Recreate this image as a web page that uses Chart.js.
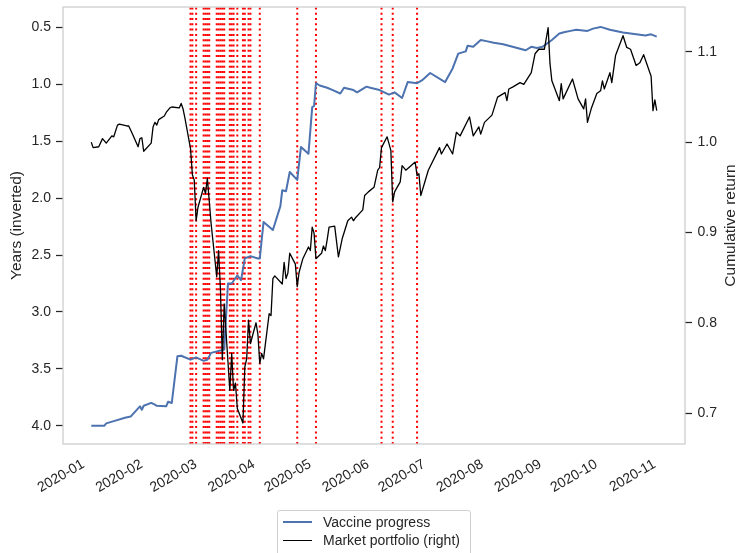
<!DOCTYPE html>
<html>
<head>
<meta charset="utf-8">
<title>Vaccine progress and market portfolio</title>
<script src="https://cdn.jsdelivr.net/npm/chart.js@4.4.0/dist/chart.umd.min.js"></script>
<style>
  html, body { margin: 0; padding: 0; background: #fff; overflow: hidden; width: 737px; height: 553px; }
  #wrap { position: relative; width: 737px; height: 553px; }
  #chart { position: absolute; left: 0; top: 0; }
  #legend {
    position: absolute; left: 277px; top: 510px; width: 194px; height: 60px;
    box-sizing: border-box; border: 1px solid #d0d0d0; border-radius: 3px;
    background: rgba(255,255,255,0.8);
    font: 14px "Liberation Sans", Arial, sans-serif; color: #262626;
  }
  .item { position: absolute; left: 5px; height: 19px; display: flex; align-items: center; white-space: nowrap; }
  .swatch { width: 29px; height: 0; margin-right: 11px; }
</style>
</head>
<body>
<div id="wrap">
  <canvas id="chart" width="737" height="553"></canvas>
  <div id="legend"></div>
</div>
<script>
// Expected years until a vaccine (left axis, inverted)
const VACCINE_DATES = [
  '2020-01-02','2020-01-09','2020-01-10','2020-01-14','2020-01-20','2020-01-23','2020-01-28','2020-01-29','2020-01-30',
  '2020-02-03','2020-02-05','2020-02-06','2020-02-11','2020-02-12','2020-02-14','2020-02-17','2020-02-19','2020-02-24','2020-02-27',
  '2020-03-02','2020-03-04','2020-03-06','2020-03-11','2020-03-13','2020-03-15','2020-03-17','2020-03-20','2020-03-22','2020-03-24',
  '2020-03-27','2020-03-31','2020-04-01','2020-04-03','2020-04-08','2020-04-12','2020-04-13','2020-04-15','2020-04-17','2020-04-21',
  '2020-04-23','2020-04-27','2020-04-29','2020-04-30','2020-05-01','2020-05-03','2020-05-07','2020-05-10','2020-05-14','2020-05-16',
  '2020-05-21','2020-05-23','2020-05-26','2020-05-28','2020-05-30','2020-06-04','2020-06-09','2020-06-12','2020-06-16','2020-06-19',
  '2020-06-24','2020-06-27','2020-07-01','2020-07-09','2020-07-13','2020-07-16','2020-07-20','2020-07-21','2020-07-24','2020-07-28',
  '2020-07-31','2020-08-04','2020-08-09','2020-08-14','2020-08-21','2020-08-24','2020-08-27','2020-08-30','2020-09-04','2020-09-08',
  '2020-09-11','2020-09-14','2020-09-17','2020-09-23','2020-09-26','2020-09-30','2020-10-05','2020-10-12','2020-10-19','2020-10-24',
  '2020-10-27','2020-10-30'
];
const VACCINE_YEARS = [
  4.00, 4.00, 3.98, 3.96, 3.93, 3.92, 3.83, 3.86, 3.825,
  3.80, 3.815, 3.825, 3.83, 3.79, 3.80, 3.39, 3.385, 3.42, 3.40,
  3.43, 3.42, 3.36, 3.34, 3.33, 2.75, 2.75, 2.68, 2.72, 2.53,
  2.51, 2.53, 2.53, 2.21, 2.28, 2.07, 1.93, 1.94, 1.77, 1.84,
  1.55, 1.61, 1.20, 1.19, 0.99, 1.01, 1.03, 1.05, 1.08, 1.03,
  1.05, 1.07, 1.04, 1.02, 1.03, 1.05, 1.09, 1.07, 1.12, 0.98,
  0.99, 0.96, 0.90, 0.98, 0.86, 0.73, 0.71, 0.66, 0.67, 0.61,
  0.62, 0.635, 0.647, 0.67, 0.70, 0.67, 0.68, 0.67, 0.61, 0.553,
  0.54, 0.53, 0.52, 0.53, 0.51, 0.495, 0.52, 0.545, 0.56, 0.57,
  0.56, 0.58
];

// Cumulative return of the market portfolio (right axis)
const MARKET_DATES = [
  '2020-01-02','2020-01-03','2020-01-06','2020-01-08','2020-01-10','2020-01-13','2020-01-14','2020-01-16','2020-01-17','2020-01-21',
  '2020-01-22','2020-01-24','2020-01-27','2020-01-28','2020-01-29','2020-01-30','2020-02-03','2020-02-04','2020-02-05','2020-02-06',
  '2020-02-07','2020-02-10','2020-02-11','2020-02-13','2020-02-14','2020-02-18','2020-02-19','2020-02-20','2020-02-21','2020-02-24',
  '2020-02-25','2020-02-26','2020-02-27','2020-02-28','2020-03-02','2020-03-03','2020-03-04','2020-03-05','2020-03-06','2020-03-09',
  '2020-03-10','2020-03-11','2020-03-12','2020-03-13','2020-03-16','2020-03-17','2020-03-18','2020-03-19','2020-03-20','2020-03-23',
  '2020-03-24','2020-03-25','2020-03-26','2020-03-27','2020-03-30','2020-03-31','2020-04-01','2020-04-02','2020-04-03','2020-04-06',
  '2020-04-07','2020-04-08','2020-04-09','2020-04-13','2020-04-14','2020-04-15','2020-04-16','2020-04-17','2020-04-20','2020-04-21',
  '2020-04-22','2020-04-24','2020-04-27','2020-04-28','2020-04-29','2020-04-30','2020-05-01','2020-05-04','2020-05-05','2020-05-06',
  '2020-05-07','2020-05-08','2020-05-11','2020-05-13','2020-05-15','2020-05-18','2020-05-20','2020-05-21','2020-05-22','2020-05-26',
  '2020-05-27','2020-05-29','2020-06-01','2020-06-03','2020-06-04','2020-06-05','2020-06-08','2020-06-10','2020-06-11','2020-06-12',
  '2020-06-15','2020-06-16','2020-06-18','2020-06-23','2020-06-24','2020-06-25','2020-06-26','2020-06-30','2020-07-06','2020-07-07',
  '2020-07-10','2020-07-13','2020-07-15','2020-07-17','2020-07-22','2020-07-24','2020-07-27','2020-07-28','2020-07-30','2020-08-03',
  '2020-08-06','2020-08-10','2020-08-11','2020-08-12','2020-08-14','2020-08-18','2020-08-20','2020-08-24','2020-08-26','2020-08-28',
  '2020-08-31','2020-09-02','2020-09-03','2020-09-04','2020-09-08','2020-09-09','2020-09-10','2020-09-15','2020-09-18','2020-09-21',
  '2020-09-22','2020-09-23','2020-09-25','2020-09-28','2020-09-30','2020-10-01','2020-10-02','2020-10-05','2020-10-06','2020-10-08',
  '2020-10-12','2020-10-14','2020-10-16','2020-10-19','2020-10-21','2020-10-23','2020-10-27','2020-10-28','2020-10-29','2020-10-30'
];
const MARKET_RETURN = [
  1.000, 0.994, 0.995, 1.004, 0.999, 1.007, 1.006, 1.019, 1.020, 1.018,
  1.018, 1.009, 0.995, 1.004, 1.005, 0.990, 0.999, 1.017, 1.022, 1.019,
  1.025, 1.029, 1.033, 1.038, 1.039, 1.038, 1.043, 1.037, 1.027, 0.993,
  0.964, 0.958, 0.913, 0.928, 0.950, 0.943, 0.960, 0.935, 0.910, 0.851,
  0.880, 0.836, 0.759, 0.821, 0.725, 0.766, 0.725, 0.733, 0.705, 0.689,
  0.751, 0.760, 0.803, 0.777, 0.800, 0.787, 0.755, 0.766, 0.760, 0.810,
  0.808, 0.849, 0.852, 0.843, 0.867, 0.849, 0.855, 0.877, 0.865, 0.840,
  0.856, 0.871, 0.884, 0.880, 0.906, 0.899, 0.871, 0.877, 0.885, 0.880,
  0.892, 0.906, 0.907, 0.873, 0.893, 0.913, 0.917, 0.913, 0.916, 0.925,
  0.941, 0.945, 0.950, 0.969, 0.972, 0.994, 1.006, 0.991, 0.934, 0.945,
  0.956, 0.974, 0.969, 0.978, 0.963, 0.965, 0.941, 0.969, 0.994, 0.987,
  0.998, 0.987, 1.011, 1.007, 1.028, 1.007, 1.017, 1.009, 1.022, 1.030,
  1.050, 1.055, 1.046, 1.059, 1.061, 1.066, 1.064, 1.077, 1.098, 1.103,
  1.103, 1.127, 1.087, 1.068, 1.046, 1.065, 1.048, 1.070, 1.048, 1.037,
  1.048, 1.022, 1.037, 1.054, 1.057, 1.068, 1.059, 1.077, 1.066, 1.096,
  1.118, 1.105, 1.103, 1.085, 1.088, 1.097, 1.073, 1.035, 1.047, 1.035
];

// Days marked with dotted vertical lines
const EVENT_DATES = [
  '2020-02-24','2020-02-25','2020-02-27',
  '2020-03-02','2020-03-03','2020-03-04','2020-03-05',
  '2020-03-09','2020-03-10','2020-03-11','2020-03-12','2020-03-13',
  '2020-03-16','2020-03-17','2020-03-18','2020-03-20',
  '2020-03-23','2020-03-24','2020-03-26','2020-03-27',
  '2020-04-01','2020-04-21','2020-05-01','2020-06-05','2020-06-11','2020-06-24'
];

// Axis ticks and visible ranges
const MONTH_TICKS = ['2020-01-01','2020-02-01','2020-03-01','2020-04-01','2020-05-01','2020-06-01',
                     '2020-07-01','2020-08-01','2020-09-01','2020-10-01','2020-11-01'];
const MONTH_LABELS = MONTH_TICKS.map(s => s.slice(0, 7));
const LEFT_TICKS = [0.5, 1.0, 1.5, 2.0, 2.5, 3.0, 3.5, 4.0];
const RIGHT_TICKS = [0.7, 0.8, 0.9, 1.0, 1.1];
const LEFT_RANGE = [0.32, 4.161];
const RIGHT_RANGE = [0.6657, 1.1498];

const LEFT_TITLE = 'Years (inverted)';
const RIGHT_TITLE = 'Cumulative return';
const SERIES_NAMES = ['Vaccine progress', 'Market portfolio (right)'];

const FONT = '"Liberation Sans", Arial, Helvetica, sans-serif';
const TEXT = '#262626';
const BLUE = '#4c72b0';

const ORIGIN = Date.UTC(2020, 0, 1);
function dayNum(s) {
  const [y, m, d] = s.split('-').map(Number);
  return (Date.UTC(y, m - 1, d) - ORIGIN) / 86400000;
}
function padded(lo, hi) {
  const m = (hi - lo) * 0.05;
  return [lo - m, hi + m];
}

const allDays = VACCINE_DATES.concat(MARKET_DATES).map(dayNum);
const [xMin, xMax] = padded(Math.min(...allDays), Math.max(...allDays));

Chart.defaults.font.family = FONT;
Chart.defaults.color = TEXT;

// Red dotted verticals behind the series
const eventLines = {
  id: 'eventLines',
  beforeDatasetsDraw(chart) {
    const { ctx, chartArea: a, scales: { x } } = chart;
    ctx.save();
    ctx.beginPath();
    ctx.rect(a.left, a.top, a.width, a.height);
    ctx.clip();
    ctx.strokeStyle = '#ff0000';
    ctx.lineWidth = 2;
    ctx.setLineDash([2, 3.3]);
    EVENT_DATES.forEach(s => {
      const px = x.getPixelForValue(dayNum(s));
      ctx.beginPath();
      ctx.moveTo(px, a.bottom);
      ctx.lineTo(px, a.top);
      ctx.stroke();
    });
    ctx.restore();
  }
};

// Light grey box around the plotting area
const frame = {
  id: 'frame',
  afterDatasetsDraw(chart) {
    const { ctx, chartArea: a } = chart;
    ctx.save();
    ctx.strokeStyle = '#cccccc';
    ctx.lineWidth = 1.25;
    ctx.strokeRect(a.left, a.top, a.width, a.height);
    ctx.restore();
  }
};

// Right axis title, reading bottom to top like the left one
const rightTitle = {
  id: 'rightTitle',
  afterDraw(chart) {
    const { ctx, chartArea: a, scales: { y2 } } = chart;
    ctx.save();
    ctx.translate(y2.right - 6, (a.top + a.bottom) / 2);
    ctx.rotate(-Math.PI / 2);
    ctx.font = '15.5px ' + FONT;
    ctx.fillStyle = TEXT;
    ctx.textAlign = 'center';
    ctx.textBaseline = 'middle';
    ctx.fillText(RIGHT_TITLE, 0, 0);
    ctx.restore();
  }
};

function noPad(s) { s.paddingTop = 0; s.paddingBottom = 0; s.paddingLeft = 0; s.paddingRight = 0; }

const chart = new Chart(document.getElementById('chart'), {
  type: 'line',
  data: {
    datasets: [
      {
        label: SERIES_NAMES[0],
        data: VACCINE_DATES.map((d, i) => ({ x: dayNum(d), y: VACCINE_YEARS[i] })),
        yAxisID: 'y',
        borderColor: BLUE,
        borderWidth: 2,
        pointRadius: 0,
        tension: 0,
        borderJoinStyle: 'round',
        order: 2
      },
      {
        label: SERIES_NAMES[1],
        data: MARKET_DATES.map((d, i) => ({ x: dayNum(d), y: MARKET_RETURN[i] })),
        yAxisID: 'y2',
        borderColor: '#000000',
        borderWidth: 1.3,
        pointRadius: 0,
        tension: 0,
        borderJoinStyle: 'round',
        order: 1
      }
    ]
  },
  options: {
    responsive: false,
    animation: false,
    devicePixelRatio: 1,
    layout: { padding: { top: 7, left: 0, right: 0, bottom: 0 } },
    plugins: { legend: { display: false }, tooltip: { enabled: false } },
    scales: {
      x: {
        type: 'linear',
        position: 'bottom',
        min: xMin,
        max: xMax,
        afterBuildTicks(s) { s.ticks = MONTH_TICKS.map(v => ({ value: dayNum(v) })); },
        afterFit(s) { s.height = 109; noPad(s); },
        grid: { display: false, drawTicks: false },
        border: { display: false },
        ticks: {
          autoSkip: false, minRotation: 30, maxRotation: 30,
          padding: 12, labelOffset: -6,
          font: { size: 14 }, color: TEXT,
          callback: (v, i) => MONTH_LABELS[i]
        }
      },
      y: {
        type: 'linear',
        position: 'left',
        reverse: true,
        min: LEFT_RANGE[0],
        max: LEFT_RANGE[1],
        afterBuildTicks(s) { s.ticks = LEFT_TICKS.map(v => ({ value: v })); },
        afterFit(s) { s.width = 63; noPad(s); },
        grid: { drawOnChartArea: false, drawTicks: true, tickLength: 7, tickColor: TEXT, tickWidth: 1.25 },
        border: { display: false },
        title: { display: true, text: LEFT_TITLE, color: TEXT, font: { size: 15.5 }, padding: { top: 7, bottom: 0 } },
        ticks: { padding: 5, font: { size: 14 }, color: TEXT, callback: v => Number(v).toFixed(1) }
      },
      y2: {
        type: 'linear',
        position: 'right',
        min: RIGHT_RANGE[0],
        max: RIGHT_RANGE[1],
        afterBuildTicks(s) { s.ticks = RIGHT_TICKS.map(v => ({ value: v })); },
        afterFit(s) { s.width = 52; noPad(s); },
        grid: { drawOnChartArea: false, drawTicks: true, tickLength: 7, tickColor: TEXT, tickWidth: 1.25 },
        border: { display: false },
        ticks: { padding: 5.5, font: { size: 14 }, color: TEXT, callback: v => Number(v).toFixed(1) }
      }
    }
  },
  plugins: [eventLines, frame, rightTitle]
});

// Legend built from the chart's datasets
const legend = document.getElementById('legend');
chart.data.datasets.forEach((ds, i) => {
  const item = document.createElement('div');
  item.className = 'item';
  item.style.top = (1 + i * 18.5) + 'px';
  const sw = document.createElement('div');
  sw.className = 'swatch';
  sw.style.borderTop = ds.borderWidth + 'px solid ' + ds.borderColor;
  const label = document.createElement('span');
  label.textContent = ds.label;
  item.appendChild(sw);
  item.appendChild(label);
  legend.appendChild(item);
});
</script>
</body>
</html>
